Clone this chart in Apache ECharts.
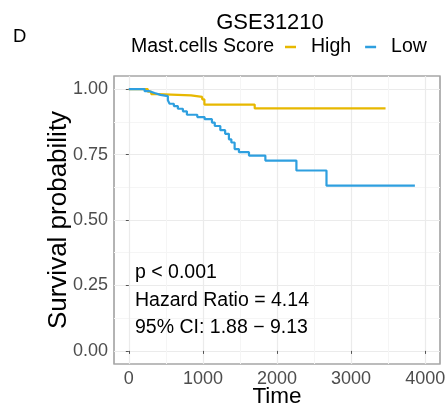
<!DOCTYPE html>
<html>
<head>
<meta charset="utf-8">
<script src="https://cdn.jsdelivr.net/npm/echarts@6/dist/echarts.min.js"></script>
<style>
  html, body { margin: 0; padding: 0; background: #fff; }
  #chart { width: 448px; height: 412px; }
</style>
</head>
<body>
<div id="chart"></div>
<script>
// KM curves (time, survival)
var highTime = [0, 256, 302, 392, 840, 990, 1020, 1699, 3465];
var highSurv = [1, 0.990, 0.981, 0.976, 0.970, 0.961, 0.941, 0.926, 0.926];

var lowTime = [0, 213, 280, 347, 428, 527, 550, 608, 662, 730, 784, 924, 1023, 1122, 1160, 1235, 1300, 1351, 1384, 1428, 1486, 1622, 1843, 2262, 2668, 3861];
var lowSurv = [1, 0.992, 0.985, 0.978, 0.973, 0.957, 0.944, 0.935, 0.925, 0.915, 0.902, 0.893, 0.885, 0.872, 0.859, 0.843, 0.829, 0.808, 0.796, 0.771, 0.759, 0.746, 0.727, 0.689, 0.631, 0.631];

var xTicks = [0, 1000, 2000, 3000, 4000];
var xMinor = [500, 1500, 2500, 3500];
var yTicks = [0, 0.25, 0.5, 0.75, 1];
var yMinor = [0.125, 0.375, 0.625, 0.875];

var statsText = ['p < 0.001', 'Hazard Ratio = 4.14', '95% CI: 1.88 \u2212 9.13'];

var FONT = '"Liberation Sans", Arial, Helvetica, sans-serif';

function pairs(xs, ys) {
  var out = [];
  for (var i = 0; i < xs.length; i++) out.push([xs[i], ys[i]]);
  return out;
}

var chart = echarts.init(document.getElementById('chart'), null, { renderer: 'canvas' });

// panel; outerBoundsMode none so v6 does not shrink it to fit the axis titles
function panel() {
  return { left: 114, right: 8, top: 76, bottom: 48, outerBoundsMode: 'none',
    show: true, borderColor: '#a6a6a6', borderWidth: 1.2, backgroundColor: 'transparent' };
}

var option = {
  animation: false,
  backgroundColor: '#fff',
  title: [
    { text: 'GSE31210', left: 270, top: 12, padding: 0, textAlign: 'center',
      textStyle: { fontFamily: FONT, fontSize: 22, fontWeight: 'normal', color: '#000' } },
    { text: 'D', left: 13, top: 27, padding: 0,
      textStyle: { fontFamily: FONT, fontSize: 18.5, fontWeight: 'normal', color: '#000' } },
    { text: 'Mast.cells Score', left: 131, top: 37, padding: 0,
      textStyle: { fontFamily: FONT, fontSize: 19.5, fontWeight: 'normal', color: '#000' } }
  ],
  legend: {
    data: ['High', 'Low'],
    left: 285, top: 37, padding: 0,
    icon: 'rect', itemWidth: 11, itemHeight: 2.5, itemGap: 14,
    textStyle: { fontFamily: FONT, fontSize: 19.5, color: '#000', padding: [0, 0, 0, 10] }
  },
  grid: [panel(), panel()],
  xAxis: [
    { type: 'value', gridIndex: 0, min: -200, max: 4200,
      name: 'Time', nameLocation: 'middle', nameGap: 21, nameMoveOverlap: false,
      nameTextStyle: { fontFamily: FONT, fontSize: 22.5, color: '#000' },
      axisLine: { show: false },
      axisTick: { show: true, length: 3, customValues: xTicks, lineStyle: { color: '#555' } },
      axisLabel: { customValues: xTicks, margin: 6, fontFamily: FONT, fontSize: 18, color: '#4d4d4d',
        formatter: function (v) { return String(v); } },
      splitLine: { show: true, lineStyle: { color: '#ebebeb', width: 1.2 } } },
    { type: 'value', gridIndex: 1, min: -200, max: 4200,
      axisLine: { show: false }, axisLabel: { show: false },
      axisTick: { show: false, customValues: xMinor },
      splitLine: { show: true, lineStyle: { color: '#f5f5f5', width: 1 } } }
  ],
  yAxis: [
    { type: 'value', gridIndex: 0, min: -0.05, max: 1.05,
      name: 'Survival probability', nameLocation: 'middle', nameGap: 42, nameMoveOverlap: false,
      nameTextStyle: { fontFamily: FONT, fontSize: 26, color: '#000' },
      axisLine: { show: false },
      axisTick: { show: true, length: 3, customValues: yTicks, lineStyle: { color: '#555' } },
      axisLabel: { customValues: yTicks, margin: 6, fontFamily: FONT, fontSize: 18, color: '#4d4d4d',
        formatter: function (v) { return v.toFixed(2); } },
      splitLine: { show: true, lineStyle: { color: '#ebebeb', width: 1.2 } } },
    { type: 'value', gridIndex: 1, min: -0.05, max: 1.05,
      axisLine: { show: false }, axisLabel: { show: false },
      axisTick: { show: false, customValues: yMinor },
      splitLine: { show: true, lineStyle: { color: '#f5f5f5', width: 1 } } }
  ],
  series: [
    { name: 'High', type: 'line', step: 'end', xAxisIndex: 0, yAxisIndex: 0,
      data: pairs(highTime, highSurv), showSymbol: false, symbol: 'none', z: 3,
      itemStyle: { color: '#E7B800' }, lineStyle: { color: '#E7B800', width: 2.2 } },
    { name: 'Low', type: 'line', step: 'end', xAxisIndex: 0, yAxisIndex: 0,
      data: pairs(lowTime, lowSurv), showSymbol: false, symbol: 'none', z: 4,
      itemStyle: { color: '#2E9FDF' }, lineStyle: { color: '#2E9FDF', width: 2.2 } }
  ],
  graphic: statsText.map(function (t, i) {
    return { type: 'text', left: 135, top: 263 + i * 27.5, z: 10,
      style: { text: t, fontFamily: FONT, fontSize: 19.5, fill: '#000' } };
  })
};

chart.setOption(option);
</script>
</body>
</html>
